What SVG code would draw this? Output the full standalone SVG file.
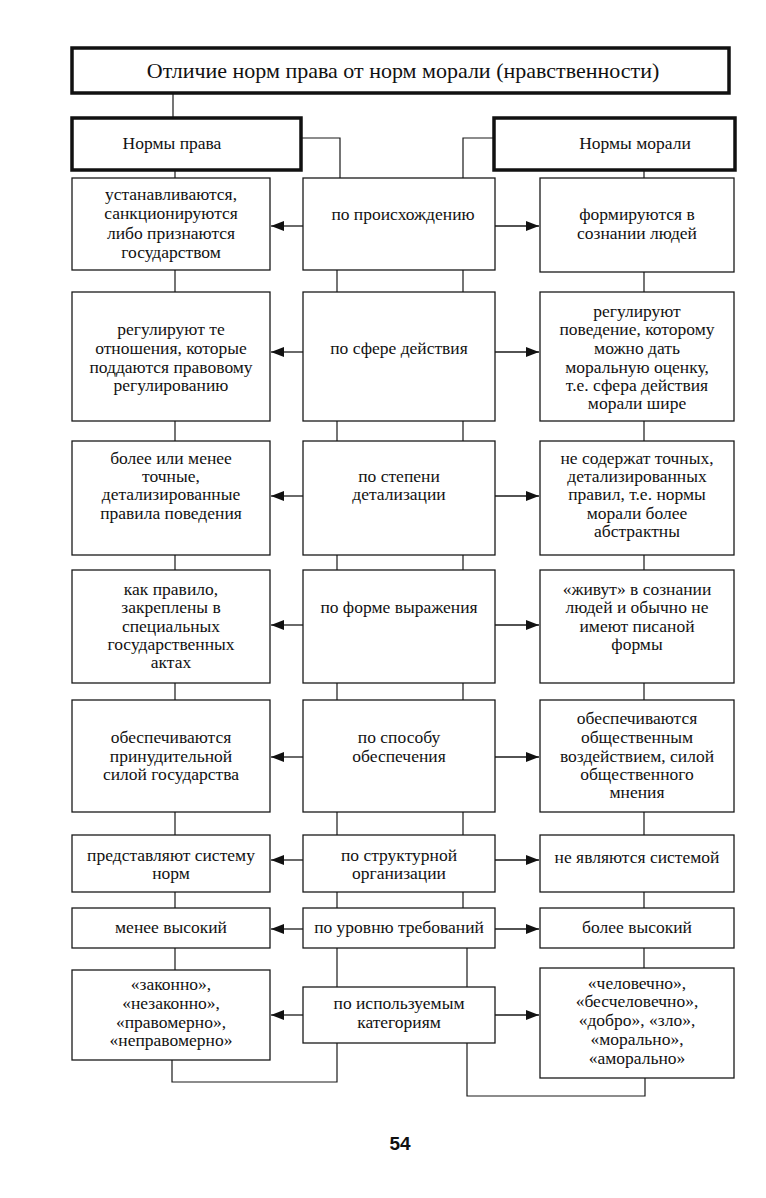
<svg xmlns="http://www.w3.org/2000/svg" width="766" height="1198" viewBox="0 0 766 1198">
<defs>
<marker id="ah" markerUnits="userSpaceOnUse" markerWidth="14" markerHeight="12" refX="13" refY="5" orient="auto">
<path d="M0,0 L13,5 L0,10 z" fill="#111"/>
</marker>
<style>
.box{fill:#fff;stroke:#1a1a1a;stroke-width:1.3}
.hbox{fill:#fff;stroke:#111;stroke-width:3.5}
.ln{fill:none;stroke:#1a1a1a;stroke-width:1.2}
.ar{fill:none;stroke:#1a1a1a;stroke-width:1.3;marker-end:url(#ah)}
text{font-family:"Liberation Serif","Times New Roman",serif;font-size:17.5px;fill:#111;text-anchor:middle}
.t{font-size:22px}
.pg{font-family:"Liberation Sans",Arial,sans-serif;font-size:19px;font-weight:bold}
</style>
</defs>
<rect width="766" height="1198" fill="#fff"/>

<g id="connectors">
<path class="ln" d="M173,93 V118"/>
<path class="ln" d="M301,138 H340 V178"/>
<path class="ln" d="M494,138 H463 V178"/>
<path class="ln" d="M175,170 V178"/>
<path class="ln" d="M644,170 V178"/>
<path class="ln" d="M175,270 V292 M337,270 V292 M463,270 V292 M644,272 V292"/>
<path class="ln" d="M175,421 V441 M337,421 V441 M463,421 V441 M644,421 V441"/>
<path class="ln" d="M175,555 V570 M337,555 V570 M463,555 V570 M644,555 V570"/>
<path class="ln" d="M175,683 V700 M337,683 V700 M463,683 V700 M644,683 V700"/>
<path class="ln" d="M175,812 V835 M337,812 V835 M463,812 V835 M644,812 V835"/>
<path class="ln" d="M175,892 V908 M337,892 V908 M463,892 V908 M644,892 V908"/>
<path class="ln" d="M175,948 V970 M337,948 V987 M467,948 V987 M644,948 V968"/>
<path class="ln" d="M172,1060 V1082 H337 V1043"/>
<path class="ln" d="M645,1078 V1096 H467 V1043"/>
<path class="ar" d="M303,226 H271"/><path class="ar" d="M495,226 H539"/>
<path class="ar" d="M303,352 H271"/><path class="ar" d="M495,352 H539"/>
<path class="ar" d="M303,496 H271"/><path class="ar" d="M495,496 H539"/>
<path class="ar" d="M303,625 H271"/><path class="ar" d="M495,625 H539"/>
<path class="ar" d="M303,757 H271"/><path class="ar" d="M495,757 H539"/>
<path class="ar" d="M303,860 H271"/><path class="ar" d="M495,860 H539"/>
<path class="ar" d="M303,929 H271"/><path class="ar" d="M495,929 H539"/>
<path class="ar" d="M303,1015 H271"/><path class="ar" d="M495,1015 H539"/>
</g>

<g id="title"><rect class="hbox" x="72" y="48" width="657" height="45"/><text class="t" x="403" y="78">Отличие норм права от норм морали (нравственности)</text></g>
<g id="law"><rect class="hbox" x="72" y="118" width="229" height="52"/><text x="172" y="149">Нормы права</text></g>
<g id="moral"><rect class="hbox" x="494" y="118" width="241" height="52"/><text x="635" y="149">Нормы морали</text></g>

<g id="r1l"><rect class="box" x="72" y="178" width="198" height="92"/><text x="171" y="200">устанавливаются,</text><text x="171" y="219">санкционируются</text><text x="171" y="239">либо признаются</text><text x="171" y="258">государством</text></g>
<g id="r1m"><rect class="box" x="303" y="178" width="192" height="92"/><text x="403" y="220">по происхождению</text></g>
<g id="r1r"><rect class="box" x="540" y="178" width="194" height="94"/><text x="637" y="220">формируются в</text><text x="637" y="239">сознании людей</text></g>

<g id="r2l"><rect class="box" x="72" y="292" width="198" height="129"/><text x="171" y="335">регулируют те</text><text x="171" y="354">отношения, которые</text><text x="171" y="373">поддаются правовому</text><text x="171" y="391">регулированию</text></g>
<g id="r2m"><rect class="box" x="303" y="292" width="192" height="129"/><text x="399" y="354">по сфере действия</text></g>
<g id="r2r"><rect class="box" x="540" y="292" width="194" height="129"/><text x="637" y="317">регулируют</text><text x="637" y="335">поведение, которому</text><text x="637" y="354">можно дать</text><text x="637" y="373">моральную оценку,</text><text x="637" y="391">т.е. сфера действия</text><text x="637" y="409">морали шире</text></g>

<g id="r3l"><rect class="box" x="72" y="441" width="198" height="114"/><text x="171" y="464">более или менее</text><text x="171" y="482">точные,</text><text x="171" y="500">детализированные</text><text x="171" y="519">правила поведения</text></g>
<g id="r3m"><rect class="box" x="303" y="441" width="192" height="114"/><text x="399" y="482">по степени</text><text x="399" y="500">детализации</text></g>
<g id="r3r"><rect class="box" x="540" y="441" width="194" height="114"/><text x="637" y="464">не содержат точных,</text><text x="637" y="482">детализированных</text><text x="637" y="500">правил, т.е. нормы</text><text x="637" y="519">морали более</text><text x="637" y="537">абстрактны</text></g>

<g id="r4l"><rect class="box" x="72" y="570" width="198" height="113"/><text x="171" y="595">как правило,</text><text x="171" y="613">закреплены в</text><text x="171" y="632">специальных</text><text x="171" y="650">государственных</text><text x="171" y="668">актах</text></g>
<g id="r4m"><rect class="box" x="303" y="570" width="192" height="113"/><text x="399" y="613">по форме выражения</text></g>
<g id="r4r"><rect class="box" x="540" y="570" width="194" height="113"/><text x="637" y="595">«живут» в сознании</text><text x="637" y="613">людей и обычно не</text><text x="637" y="632">имеют писаной</text><text x="637" y="650">формы</text></g>

<g id="r5l"><rect class="box" x="72" y="700" width="198" height="112"/><text x="171" y="743">обеспечиваются</text><text x="171" y="762">принудительной</text><text x="171" y="780">силой государства</text></g>
<g id="r5m"><rect class="box" x="303" y="700" width="192" height="112"/><text x="399" y="743">по способу</text><text x="399" y="762">обеспечения</text></g>
<g id="r5r"><rect class="box" x="540" y="700" width="194" height="112"/><text x="637" y="724">обеспечиваются</text><text x="637" y="743">общественным</text><text x="637" y="762">воздействием, силой</text><text x="637" y="780">общественного</text><text x="637" y="798">мнения</text></g>

<g id="r6l"><rect class="box" x="72" y="835" width="198" height="57"/><text x="171" y="861">представляют систему</text><text x="171" y="879">норм</text></g>
<g id="r6m"><rect class="box" x="303" y="835" width="192" height="57"/><text x="399" y="861">по структурной</text><text x="399" y="879">организации</text></g>
<g id="r6r"><rect class="box" x="540" y="835" width="194" height="57"/><text x="637" y="863">не являются системой</text></g>

<g id="r7l"><rect class="box" x="72" y="908" width="198" height="40"/><text x="171" y="933">менее высокий</text></g>
<g id="r7m"><rect class="box" x="303" y="908" width="192" height="40"/><text x="399" y="933">по уровню требований</text></g>
<g id="r7r"><rect class="box" x="540" y="908" width="194" height="40"/><text x="637" y="933">более высокий</text></g>

<g id="r8l"><rect class="box" x="72" y="970" width="198" height="90"/><text x="171" y="990">«законно»,</text><text x="171" y="1009">«незаконно»,</text><text x="171" y="1028">«правомерно»,</text><text x="171" y="1046">«неправомерно»</text></g>
<g id="r8m"><rect class="box" x="303" y="987" width="192" height="56"/><text x="399" y="1009">по используемым</text><text x="399" y="1028">категориям</text></g>
<g id="r8r"><rect class="box" x="540" y="968" width="194" height="110"/><text x="637" y="989">«человечно»,</text><text x="637" y="1007">«бесчеловечно»,</text><text x="637" y="1026">«добро», «зло»,</text><text x="637" y="1045">«морально»,</text><text x="637" y="1064">«аморально»</text></g>

<text class="pg" x="400" y="1150">54</text>
</svg>
